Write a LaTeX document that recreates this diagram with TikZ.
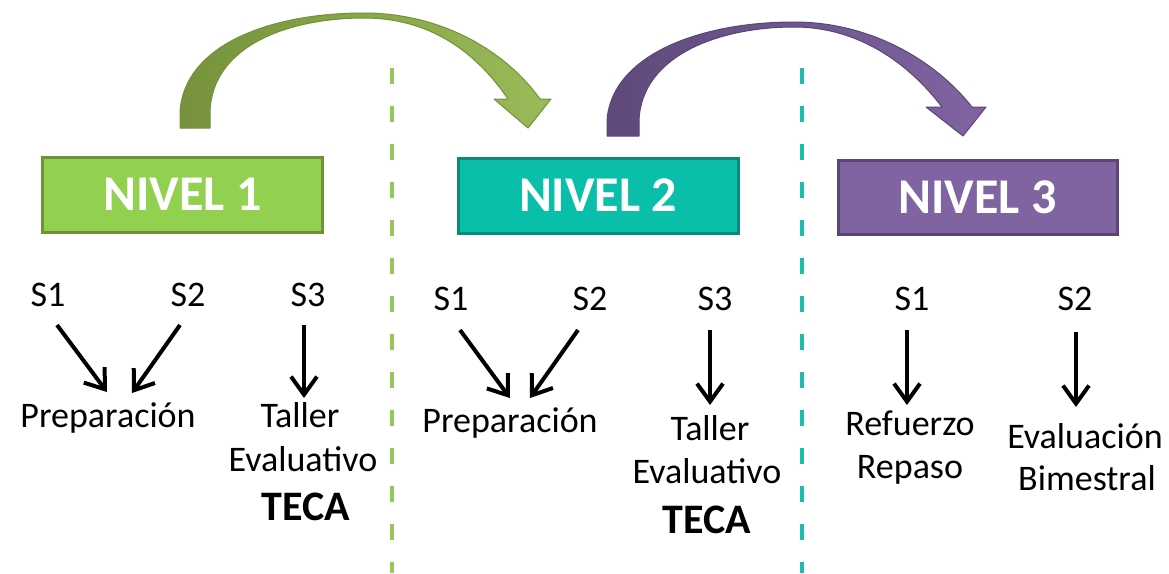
\documentclass[tikz,border=0pt]{standalone}
\usepackage{fontspec}
\setmainfont{Carlito}
\usetikzlibrary{arrows.meta}
\definecolor{gfill}{HTML}{92D050}
\definecolor{gline}{HTML}{6F9336}
\definecolor{tfill}{HTML}{0ABFAA}
\definecolor{tline}{HTML}{0B8A7C}
\definecolor{pfill}{HTML}{8064A2}
\definecolor{pline}{HTML}{5A4676}
\definecolor{gdark}{HTML}{76923C}
\definecolor{glight}{HTML}{9BBB59}
\definecolor{pdark}{HTML}{5F497A}
\definecolor{plight}{HTML}{8064A2}
\definecolor{dashg}{HTML}{97C75A}
\definecolor{dasht}{HTML}{1CBDAC}
\begin{document}
\begin{tikzpicture}[x=1pt,y=-1pt,
  lbl/.style={font=\fontsize{36}{43}\selectfont, inner sep=0pt, anchor=base},
  bold/.style={lbl, font=\fontsize{42}{50}\selectfont\bfseries},
  nivel/.style={minimum width=280pt, minimum height=75pt, line width=3pt,
     font=\fontsize{50}{60}\selectfont\bfseries, text=white, inner sep=0pt},
  arr/.style={line width=4pt, -{Straight Barb[length=18pt,width=26pt]}},
  sep/.style={line width=4pt, dash pattern=on 16pt off 22pt},
  bigarrow/.style={line width=1pt, line join=round}
]
\fill[white] (0,0) rectangle (1169,573);
\useasboundingbox (0,0) rectangle (1169,573);

% dashed separators
\draw[sep, dashg] (392,68) -- (392,573);
\draw[sep, dasht] (802,68) -- (802,573);

% curved arrows
\path[bigarrow, left color=gdark, right color=glight, draw=gline]
  (180,128) -- (180,112) .. controls (184,45) and (270,13) .. (364,13)
  .. controls (440,13) and (505,50) .. (540,99) -- (551,99) -- (528,128) -- (494,99) -- (508,99)
  .. controls (476,52) and (430,18) .. (364,18)
  .. controls (290,18) and (212,45) .. (210,112) -- (210,128) -- cycle;
\path[bigarrow, left color=pdark, right color=plight, draw=pline]
  (607,136) -- (607,120) .. controls (612,55) and (700,22) .. (794,22)
  .. controls (870,22) and (935,60) .. (972,107) -- (986,107) -- (963,136) -- (926,107) -- (942,107)
  .. controls (910,65) and (860,27) .. (794,27)
  .. controls (720,27) and (642,55) .. (639,120) -- (639,136) -- cycle;

% level boxes
\node[nivel, fill=gfill, draw=gline] (n1) at (182.5,194.5) {NIVEL 1};
\node[nivel, fill=tfill, draw=tline] (n2) at (598,195.5) {NIVEL 2};
\node[nivel, fill=pfill, draw=pline, minimum width=279pt, minimum height=74pt] (n3) at (977.5,197) {NIVEL 3};

% level 1
\node[lbl] (a1) at (48,306) {S1};
\node[lbl] (a2) at (188,306) {S2};
\node[lbl] (a3) at (308,306) {S3};
\node[lbl] (ap) at (108,427) {Preparación};
\node[lbl] (at) at (300,427) {Taller};
\node[lbl] (ae) at (303,471) {Evaluativo};
\node[bold] (ac) at (306,520) {TECA};
\draw[arr] ([xshift=9pt,yshift=-19pt]a1.base) -- ([xshift=-1pt,yshift=35pt]ap.base);
\draw[arr] ([xshift=-8pt,yshift=-19pt]a2.base) -- ([xshift=24pt,yshift=34pt]ap.base);
\draw[arr] ([xshift=-4pt,yshift=-19pt]a3.base) -- ([xshift=4pt,yshift=29pt]at.base);

% level 2
\node[lbl] (b1) at (451,310) {S1};
\node[lbl] (b2) at (590,310) {S2};
\node[lbl] (b3) at (715,310) {S3};
\node[lbl] (bp) at (510,432) {Preparación};
\node[lbl] (bt) at (710,440) {Taller};
\node[lbl] (be) at (707,483) {Evaluativo};
\node[bold] (bc) at (707,533) {TECA};
\draw[arr] ([xshift=9pt,yshift=-20pt]b1.base) -- ([xshift=0pt,yshift=34pt]bp.base);
\draw[arr] ([xshift=-12pt,yshift=-20pt]b2.base) -- ([xshift=20pt,yshift=34pt]bp.base);
\draw[arr] ([xshift=-5pt,yshift=-20pt]b3.base) -- ([xshift=0pt,yshift=35pt]bt.base);

% level 3
\node[lbl] (c1) at (912,310) {S1};
\node[lbl] (c2) at (1075,310) {S2};
\node[lbl] (cr) at (910,435) {Refuerzo};
\node[lbl] (cp) at (910,478) {Repaso};
\node[lbl] (ce) at (1085,448) {Evaluación};
\node[lbl] (cb) at (1087,490) {Bimestral};
\draw[arr] ([xshift=-5pt,yshift=-20pt]c1.base) -- ([xshift=-3pt,yshift=30pt]cr.base);
\draw[arr] ([xshift=1pt,yshift=-22pt]c2.base) -- ([xshift=-9pt,yshift=41pt]ce.base);
\end{tikzpicture}
\end{document}
